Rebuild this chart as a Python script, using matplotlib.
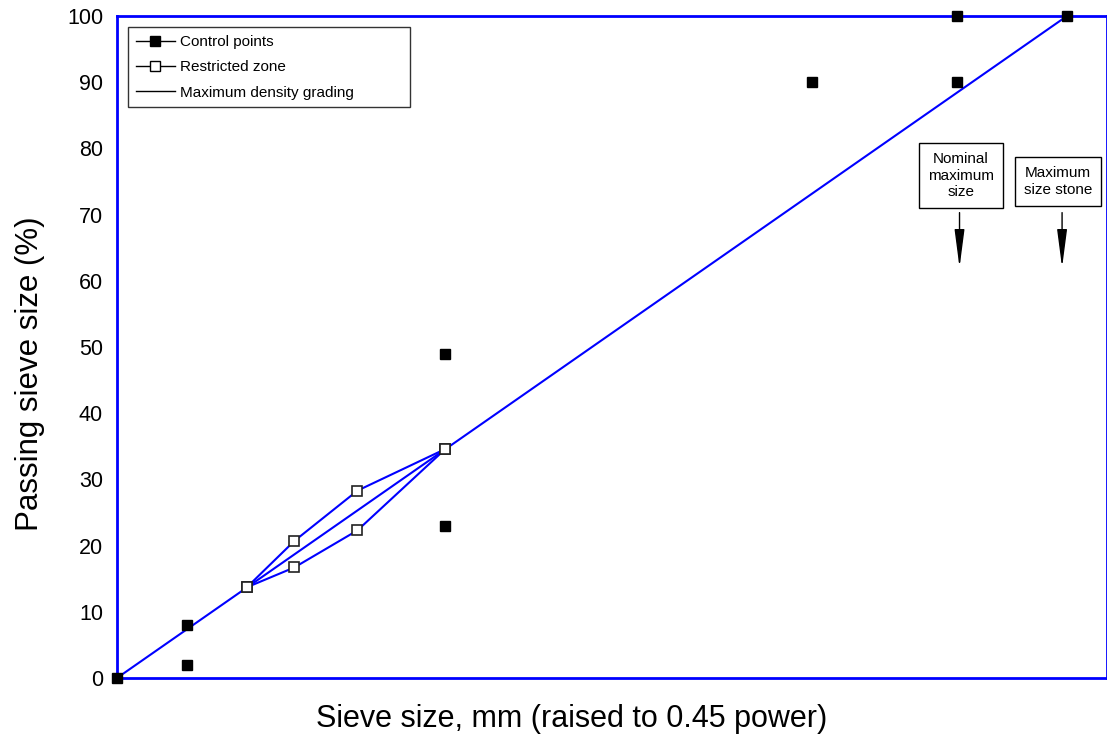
import numpy as np
import matplotlib
matplotlib.use("Agg")
import matplotlib.pyplot as plt
from matplotlib.lines import Line2D

plt.rcParams['font.family'] = ['Liberation Sans', 'DejaVu Sans']

# Sieve sizes (mm) and control points, 19 mm nominal maximum size mix
power = 0.45
ctrl_sieve = [0.0, 0.075, 0.075, 2.36, 2.36, 12.5, 19.0, 19.0, 25.0]
ctrl_pass = [0, 2, 8, 23, 49, 90, 90, 100, 100]

# Restricted zone
rz_sieve = [0.3, 0.6, 1.18, 2.36]
rz_upper = [13.7, 20.7, 28.3, 34.6]
rz_lower = [13.7, 16.7, 22.3, 34.6]

# Maximum density line
mdl_sieve = [0.0, 25.0]
mdl_pass = [0, 100]

nominal_size = 19.0
max_size = 25.0


def px(s):
	return np.array(s, dtype=float) ** power


fig = plt.figure(figsize=(11.07, 7.34), dpi=100)
ax = fig.add_axes([0.1057, 0.0763, 0.8943, 0.9019])

blue = "#0000ff"

# Max density line and restricted zone
ax.plot(px(mdl_sieve), mdl_pass, color=blue, lw=1.5, zorder=2)
ax.plot(px(rz_sieve), rz_upper, color=blue, lw=1.5, zorder=2)
ax.plot(px(rz_sieve), rz_lower, color=blue, lw=1.5, zorder=2)
ax.plot(px(rz_sieve), rz_upper, 's', ms=7, mfc='white', mec='#222222', mew=1.2, zorder=3)
ax.plot(px(rz_sieve), rz_lower, 's', ms=7, mfc='white', mec='#222222', mew=1.2, zorder=3)

# Control points
ax.plot(px(ctrl_sieve), ctrl_pass, 's', ms=7, color='black', zorder=4, clip_on=False)

ax.set_xlim(0, 4.436)
ax.set_ylim(0, 100)
ax.set_yticks(np.arange(0, 101, 10))
ax.set_xticks([])
ax.tick_params(axis='y', length=0, pad=10, labelsize=15.5)
for sp in ax.spines.values():
	sp.set_color(blue)
	sp.set_linewidth(2)

ax.set_ylabel("Passing sieve size (%)", fontsize=22.5)
ax.yaxis.set_label_coords(-0.073, 0.459)
ax.set_xlabel("Sieve size, mm (raised to 0.45 power)", fontsize=22)
ax.xaxis.set_label_coords(0.4596, -0.040)

# Legend
handles = [
	Line2D([], [], color='black', lw=1, marker='s', ms=7, mfc='black'),
	Line2D([], [], color='black', lw=1, marker='s', ms=7, mfc='white', mec='black'),
	Line2D([], [], color='black', lw=1),
]
labels = ["Control points", "Restricted zone", "Maximum density grading"]
leg = ax.legend(handles, labels, loc='upper left', mode='expand',
	bbox_to_anchor=(0.0111, 0.858, 0.285, 0.125),
	fontsize=11, frameon=True, fancybox=False, edgecolor='black',
	handlelength=2.6, handletextpad=0.3, borderpad=0.5, labelspacing=0.75,
	borderaxespad=0)
leg.get_frame().set_linewidth(1)

# Annotations
box = dict(boxstyle='square,pad=0.6', fc='white', ec='black', lw=1)
arrow = dict(arrowstyle='-|>,head_length=1.3,head_width=0.17', color='black',
	lw=1, mutation_scale=18, shrinkA=0, shrinkB=0)
ax.text(px(nominal_size) + 0.02, 75.9, "Nominal\nmaximum\nsize", ha='center', va='center',
	fontsize=11, bbox=box, linespacing=1.25)
ax.annotate('', xy=(px(nominal_size) + 0.013, 62.0), xytext=(px(nominal_size) + 0.013, 70.3),
	arrowprops=arrow)
ax.text(px(max_size) - 0.04, 75.0, "Maximum\nsize stone", ha='center', va='center',
	fontsize=11, bbox=box, linespacing=1.25)
ax.annotate('', xy=(px(max_size) - 0.022, 62.0), xytext=(px(max_size) - 0.022, 70.3),
	arrowprops=arrow)

fig.savefig("out.png", dpi=100)
